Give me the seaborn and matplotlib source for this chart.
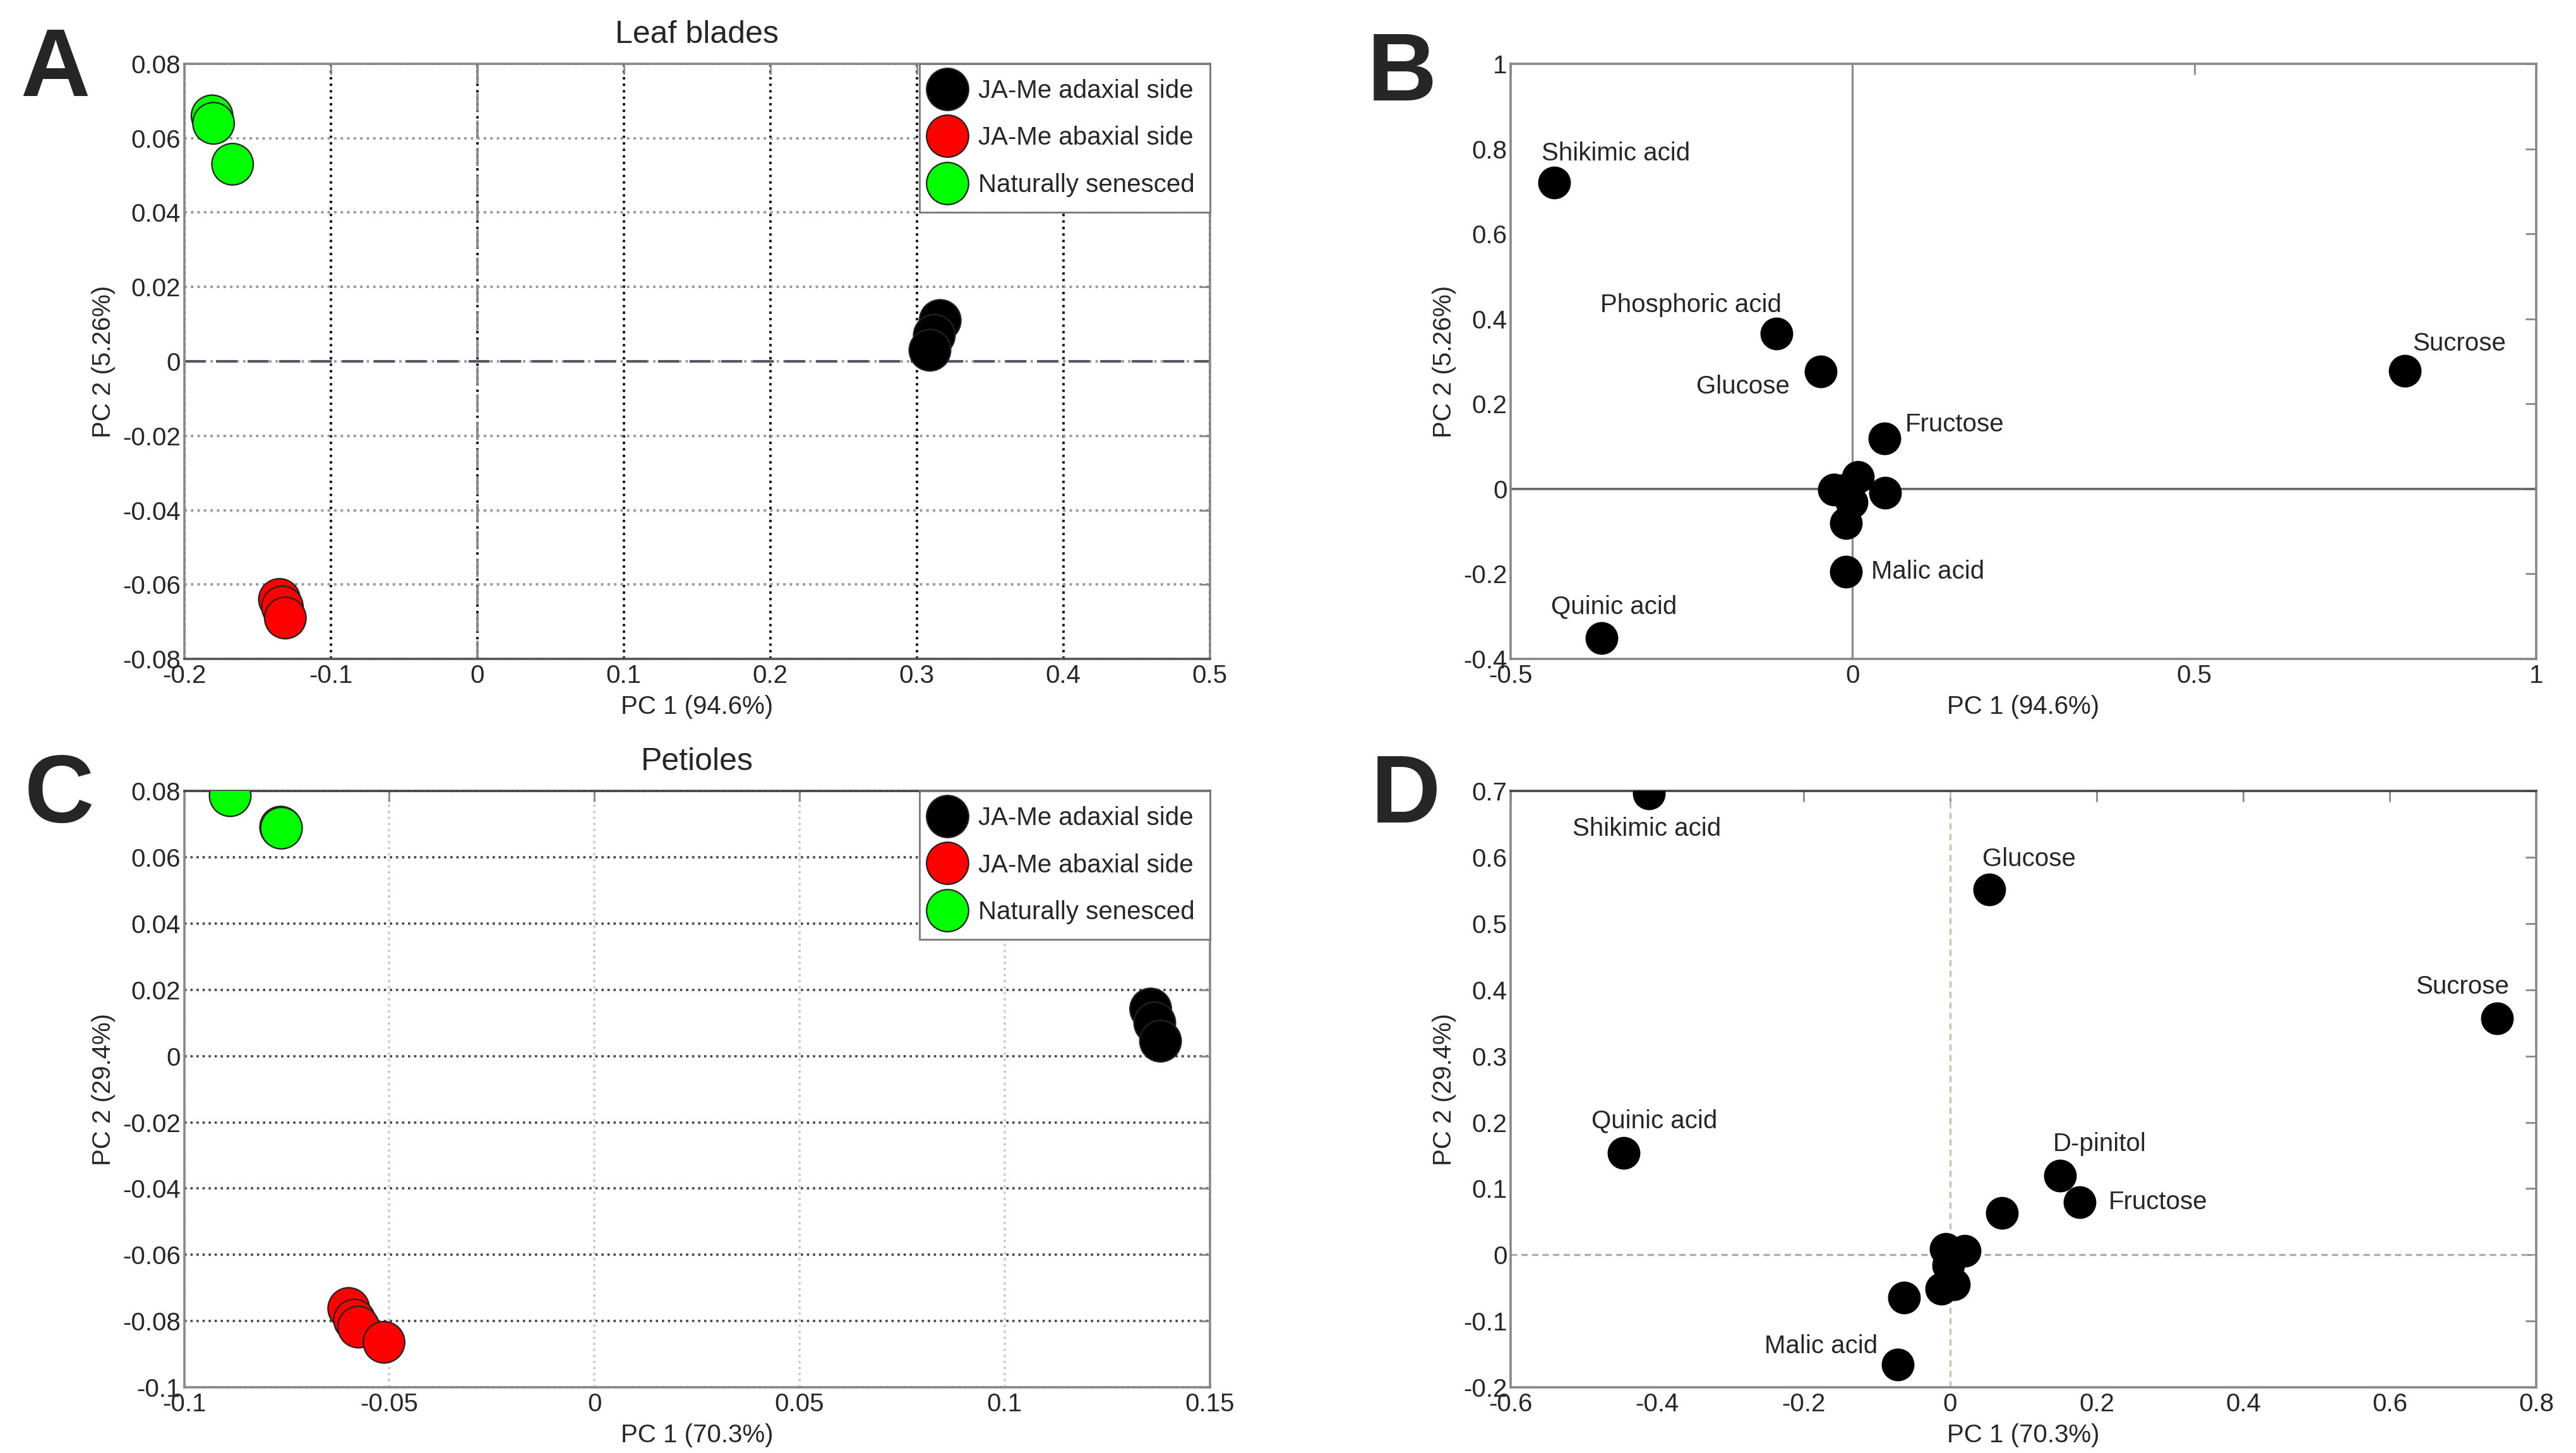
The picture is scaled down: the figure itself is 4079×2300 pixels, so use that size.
import numpy as np
import pandas as pd
import seaborn as sns
import matplotlib
matplotlib.use("Agg")
import matplotlib.pyplot as plt
from matplotlib.ticker import FuncFormatter

# =====================
# DATA
# =====================
GROUPS = ["JA-Me adaxial side", "JA-Me abaxial side", "Naturally senesced"]
GROUP_COLORS = {"JA-Me adaxial side": "#000000",
                "JA-Me abaxial side": "#ff0000",
                "Naturally senesced": "#00ff00"}

# A: leaf blades, sample scores
leaf_group = ["Naturally senesced"] * 3 + ["JA-Me abaxial side"] * 3 + ["JA-Me adaxial side"] * 3
leaf_pc1 = [-0.181, -0.180, -0.167, -0.135, -0.133, -0.131, 0.316, 0.312, 0.309]
leaf_pc2 = [0.066, 0.064, 0.053, -0.064, -0.066, -0.069, 0.011, 0.007, 0.003]

# B: leaf blades, metabolite loadings
leaf_var = ["Shikimic acid", "Phosphoric acid", "Glucose", "Fructose", "Sucrose",
            "Malic acid", "Quinic acid", "", "", "", "", "", ""]
leaf_load1 = [-0.436, -0.111, -0.047, 0.047, 0.808, -0.010, -0.367,
              -0.027, 0.008, 0.048, -0.010, -0.001, -0.010]
leaf_load2 = [0.721, 0.366, 0.276, 0.118, 0.278, -0.195, -0.351,
              -0.001, 0.028, -0.009, -0.080, -0.031, -0.001]

# C: petioles, sample scores
pet_group = ["Naturally senesced"] * 3 + ["JA-Me abaxial side"] * 4 + ["JA-Me adaxial side"] * 3
pet_pc1 = [-0.0888, -0.0765, -0.0763, -0.0599, -0.0585, -0.0575, -0.0513, 0.1356, 0.1366, 0.1380]
pet_pc2 = [0.0786, 0.0691, 0.0688, -0.0762, -0.0797, -0.0818, -0.0864, 0.0142, 0.0100, 0.0045]

# D: petioles, metabolite loadings
pet_var = ["Shikimic acid", "Glucose", "Sucrose", "Quinic acid", "D-pinitol", "Fructose", "",
           "Malic acid", "", "", "", "", "", ""]
pet_load1 = [-0.411, 0.053, 0.747, -0.446, 0.150, 0.177, 0.071, -0.072,
             -0.063, -0.006, 0.020, -0.012, 0.005, -0.003]
pet_load2 = [0.696, 0.551, 0.357, 0.154, 0.119, 0.079, 0.063, -0.166,
             -0.065, 0.009, 0.006, -0.051, -0.045, -0.016]

# label offsets (points) for the loading plots
LEAF_LABEL_OFFSETS = {"Shikimic acid": (35, 16.5), "Phosphoric acid": (-49, 16), "Glucose": (-44, -8.5),
                      "Fructose": (40, 8), "Sucrose": (31, 15.5), "Malic acid": (47, 0),
                      "Quinic acid": (7, 18)}
PET_LABEL_OFFSETS = {"Shikimic acid": (-1.5, -20), "Glucose": (23, 17.5), "Sucrose": (-20, 18),
                     "Quinic acid": (17.5, 18), "D-pinitol": (22.5, 18), "Fructose": (44.5, 0),
                     "Malic acid": (-43.5, 10.5)}

FS = 14.5

sns.set_style("white")
plt.rcParams["font.family"] = ["Liberation Sans", "DejaVu Sans"]
plt.rcParams["axes.unicode_minus"] = False

fig = plt.figure(figsize=(20.4, 11.5), dpi=200)
axA = fig.add_axes([0.0715, 0.5465, 0.398, 0.4096])
axB = fig.add_axes([0.5863, 0.5465, 0.398, 0.4096])
axC = fig.add_axes([0.0715, 0.0452, 0.398, 0.4104])
axD = fig.add_axes([0.5863, 0.0452, 0.398, 0.4104])

fmt = FuncFormatter(lambda v, _: f"{round(v, 6):g}")


def style_axes(ax, xticks, yticks, xlabel, ylabel):
    ax.set_xlim(xticks[0], xticks[-1])
    ax.set_ylim(yticks[0], yticks[-1])
    ax.set_xticks(xticks)
    ax.set_yticks(yticks)
    ax.xaxis.set_major_formatter(fmt)
    ax.yaxis.set_major_formatter(fmt)
    ax.tick_params(direction="in", top=True, right=True, length=6, width=1,
                   color="#888888", labelsize=FS, pad=3)
    ax.tick_params(axis="y", pad=2)
    for s in ax.spines.values():
        s.set_color("#888888")
        s.set_linewidth(1.3)
        s.set_visible(True)
    ax.set_xlabel(xlabel, fontsize=FS, labelpad=4)
    ax.set_ylabel(ylabel, fontsize=FS, labelpad=4)


def score_panel(ax, pc1, pc2, group, title):
    df = pd.DataFrame({"pc1": pc1, "pc2": pc2, "group": group})
    sns.scatterplot(data=df, x="pc1", y="pc2", hue="group", hue_order=GROUPS,
                    palette=GROUP_COLORS, s=560, edgecolor="#222222", linewidth=0.8,
                    ax=ax, zorder=4, legend=True)
    handles, labels = ax.get_legend_handles_labels()
    leg = ax.legend(handles, labels, loc="upper right", bbox_to_anchor=(1, 1),
                    borderaxespad=0, frameon=True, fancybox=False, framealpha=1,
                    edgecolor="#777777", fontsize=FS, handlelength=1.0,
                    handletextpad=0.7, borderpad=0.6, labelspacing=0.9)
    leg.get_frame().set_linewidth(1.0)
    leg.set_zorder(10)
    for h in leg.legend_handles:
        if hasattr(h, "set_markersize"):
            h.set_markersize(24)
            h.set_markeredgewidth(0.8)
        else:
            h.set_sizes([560])
    ax.set_title(title, fontsize=18, pad=12)


def loading_panel(ax, l1, l2, names, offsets):
    df = pd.DataFrame({"l1": l1, "l2": l2, "name": names})
    sns.scatterplot(data=df, x="l1", y="l2", color="black", s=330,
                    edgecolor="black", linewidth=0.5, ax=ax, zorder=4)
    for _, row in df.iterrows():
        if row["name"]:
            ax.annotate(row["name"], (row["l1"], row["l2"]),
                        xytext=offsets[row["name"]], textcoords="offset points",
                        ha="center", va="center", fontsize=FS, zorder=5)


# =====================
# A: LEAF BLADES SCORES
# =====================
score_panel(axA, leaf_pc1, leaf_pc2, leaf_group, "Leaf blades")
style_axes(axA, [-0.2, -0.1, 0, 0.1, 0.2, 0.3, 0.4, 0.5],
           [-0.08, -0.06, -0.04, -0.02, 0, 0.02, 0.04, 0.06, 0.08],
           "PC 1 (94.6%)", "PC 2 (5.26%)")
axA.xaxis.grid(True, linestyle=":", color="#111111", linewidth=1.4)
axA.yaxis.grid(True, linestyle=":", color="#999999", linewidth=1.4)
axA.axhline(0, color="#555566", linestyle=(0, (8, 4)), linewidth=1.5, zorder=1)
axA.axvline(0, color="#888888", linestyle=(0, (8, 4)), linewidth=1.3, zorder=1)
axA.spines["bottom"].set_color("#555555")

# =====================
# B: LEAF BLADES LOADINGS
# =====================
loading_panel(axB, leaf_load1, leaf_load2, leaf_var, LEAF_LABEL_OFFSETS)
style_axes(axB, [-0.5, 0, 0.5, 1],
           [-0.4, -0.2, 0, 0.2, 0.4, 0.6, 0.8, 1],
           "PC 1 (94.6%)", "PC 2 (5.26%)")
axB.axhline(0, color="#666666", linewidth=1.3, zorder=1)
axB.axvline(0, color="#888888", linewidth=1.1, zorder=1)

# =====================
# C: PETIOLES SCORES
# =====================
score_panel(axC, pet_pc1, pet_pc2, pet_group, "Petioles")
style_axes(axC, [-0.1, -0.05, 0, 0.05, 0.1, 0.15],
           [-0.1, -0.08, -0.06, -0.04, -0.02, 0, 0.02, 0.04, 0.06, 0.08],
           "PC 1 (70.3%)", "PC 2 (29.4%)")
axC.set_ylim(-0.1, 0.08)
axC.xaxis.grid(True, linestyle=":", color="#c8c8c8", linewidth=1.3)
axC.yaxis.grid(True, linestyle=":", color="#444444", linewidth=1.3)
axC.spines["top"].set_color("#444444")

# =====================
# D: PETIOLES LOADINGS
# =====================
loading_panel(axD, pet_load1, pet_load2, pet_var, PET_LABEL_OFFSETS)
style_axes(axD, [-0.6, -0.4, -0.2, 0, 0.2, 0.4, 0.6, 0.8],
           [-0.2, -0.1, 0, 0.1, 0.2, 0.3, 0.4, 0.5, 0.6, 0.7],
           "PC 1 (70.3%)", "PC 2 (29.4%)")
axD.axhline(0, color="#b5ad9a", linestyle=(0, (3, 2)), linewidth=1.2, zorder=1)
axD.axvline(0, color="#c9c2b0", linestyle=(0, (3, 2)), linewidth=1.2, zorder=1)
axD.spines["top"].set_color("#444444")

# panel letters
for letter, x, y in [("A", 0.008, 0.934), ("B", 0.5306, 0.931),
                     ("C", 0.0096, 0.434), ("D", 0.532, 0.434)]:
    fig.text(x, y, letter, fontsize=55, fontweight="bold", ha="left", va="baseline")

fig.savefig("out.png", dpi=200, facecolor="white")
